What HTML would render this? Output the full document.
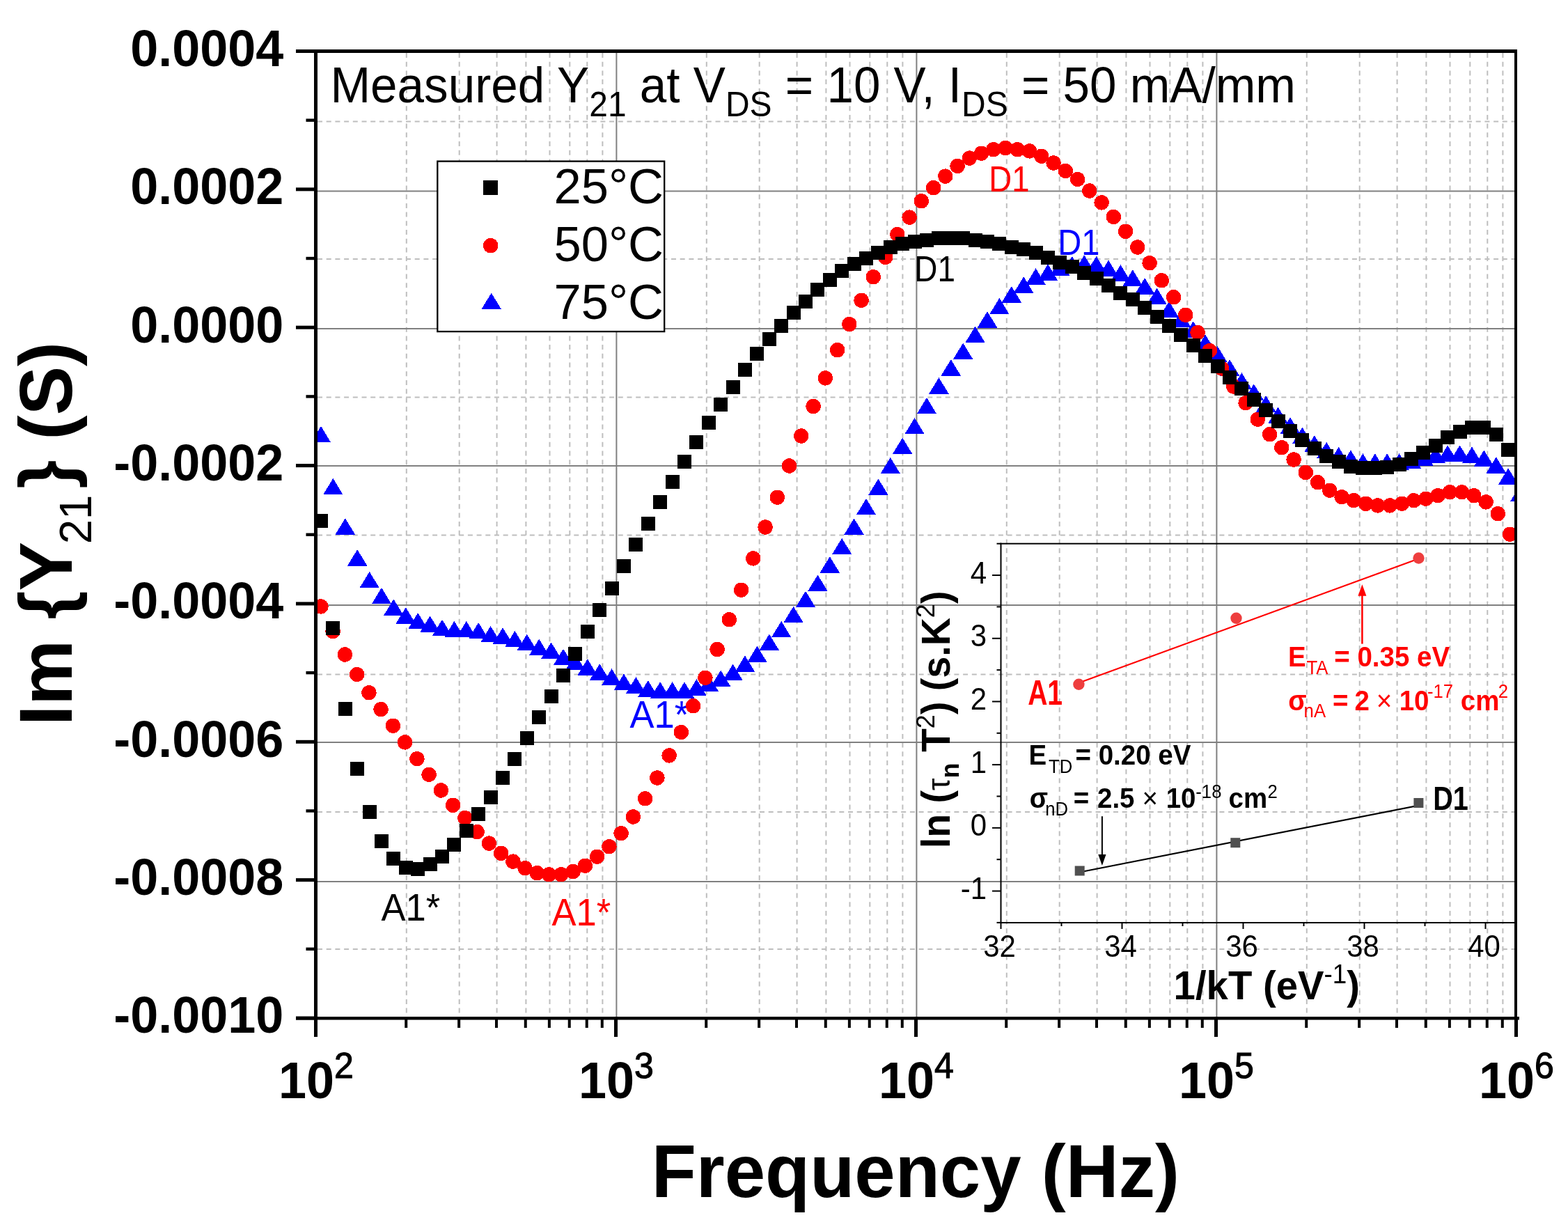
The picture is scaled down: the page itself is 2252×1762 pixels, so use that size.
<!DOCTYPE html><html><head><meta charset="utf-8"><title>Im{Y21} vs Frequency</title>
<style>html,body{margin:0;padding:0;background:#fff;overflow:hidden;}svg{display:block;}text{font-family:"Liberation Sans",Arial,sans-serif;}</style></head><body>
<svg width="2252" height="1762" viewBox="0 0 2252 1762">
<rect x="0" y="0" width="2252" height="1762" fill="#fff"/>
<defs><clipPath id="pc"><rect x="456" y="76" width="1719" height="1384"/></clipPath></defs>
<g id="grid"><g shape-rendering="crispEdges"></g><line x1="583.8" y1="76" x2="583.8" y2="1460" stroke="#bebebe" stroke-width="2" stroke-dasharray="7 5.7"/><line x1="659.7" y1="76" x2="659.7" y2="1460" stroke="#bebebe" stroke-width="2" stroke-dasharray="7 5.7"/><line x1="713.6" y1="76" x2="713.6" y2="1460" stroke="#bebebe" stroke-width="2" stroke-dasharray="7 5.7"/><line x1="755.4" y1="76" x2="755.4" y2="1460" stroke="#bebebe" stroke-width="2" stroke-dasharray="7 5.7"/><line x1="789.5" y1="76" x2="789.5" y2="1460" stroke="#bebebe" stroke-width="2" stroke-dasharray="7 5.7"/><line x1="818.3" y1="76" x2="818.3" y2="1460" stroke="#bebebe" stroke-width="2" stroke-dasharray="7 5.7"/><line x1="843.3" y1="76" x2="843.3" y2="1460" stroke="#bebebe" stroke-width="2" stroke-dasharray="7 5.7"/><line x1="865.4" y1="76" x2="865.4" y2="1460" stroke="#bebebe" stroke-width="2" stroke-dasharray="7 5.7"/><rect x="884.40" y="76" width="2" height="1384" fill="#808080"/><line x1="1014.8" y1="76" x2="1014.8" y2="1460" stroke="#bebebe" stroke-width="2" stroke-dasharray="7 5.7"/><line x1="1090.7" y1="76" x2="1090.7" y2="1460" stroke="#bebebe" stroke-width="2" stroke-dasharray="7 5.7"/><line x1="1144.6" y1="76" x2="1144.6" y2="1460" stroke="#bebebe" stroke-width="2" stroke-dasharray="7 5.7"/><line x1="1186.4" y1="76" x2="1186.4" y2="1460" stroke="#bebebe" stroke-width="2" stroke-dasharray="7 5.7"/><line x1="1220.5" y1="76" x2="1220.5" y2="1460" stroke="#bebebe" stroke-width="2" stroke-dasharray="7 5.7"/><line x1="1249.3" y1="76" x2="1249.3" y2="1460" stroke="#bebebe" stroke-width="2" stroke-dasharray="7 5.7"/><line x1="1274.3" y1="76" x2="1274.3" y2="1460" stroke="#bebebe" stroke-width="2" stroke-dasharray="7 5.7"/><line x1="1296.4" y1="76" x2="1296.4" y2="1460" stroke="#bebebe" stroke-width="2" stroke-dasharray="7 5.7"/><rect x="1315.40" y="76" width="2" height="1384" fill="#808080"/><line x1="1445.8" y1="76" x2="1445.8" y2="1460" stroke="#bebebe" stroke-width="2" stroke-dasharray="7 5.7"/><line x1="1521.7" y1="76" x2="1521.7" y2="1460" stroke="#bebebe" stroke-width="2" stroke-dasharray="7 5.7"/><line x1="1575.6" y1="76" x2="1575.6" y2="1460" stroke="#bebebe" stroke-width="2" stroke-dasharray="7 5.7"/><line x1="1617.4" y1="76" x2="1617.4" y2="1460" stroke="#bebebe" stroke-width="2" stroke-dasharray="7 5.7"/><line x1="1651.5" y1="76" x2="1651.5" y2="1460" stroke="#bebebe" stroke-width="2" stroke-dasharray="7 5.7"/><line x1="1680.3" y1="76" x2="1680.3" y2="1460" stroke="#bebebe" stroke-width="2" stroke-dasharray="7 5.7"/><line x1="1705.3" y1="76" x2="1705.3" y2="1460" stroke="#bebebe" stroke-width="2" stroke-dasharray="7 5.7"/><line x1="1727.4" y1="76" x2="1727.4" y2="1460" stroke="#bebebe" stroke-width="2" stroke-dasharray="7 5.7"/><rect x="1746.40" y="76" width="2" height="1384" fill="#808080"/><line x1="1876.8" y1="76" x2="1876.8" y2="1460" stroke="#bebebe" stroke-width="2" stroke-dasharray="7 5.7"/><line x1="1952.7" y1="76" x2="1952.7" y2="1460" stroke="#bebebe" stroke-width="2" stroke-dasharray="7 5.7"/><line x1="2006.6" y1="76" x2="2006.6" y2="1460" stroke="#bebebe" stroke-width="2" stroke-dasharray="7 5.7"/><line x1="2048.4" y1="76" x2="2048.4" y2="1460" stroke="#bebebe" stroke-width="2" stroke-dasharray="7 5.7"/><line x1="2082.5" y1="76" x2="2082.5" y2="1460" stroke="#bebebe" stroke-width="2" stroke-dasharray="7 5.7"/><line x1="2111.3" y1="76" x2="2111.3" y2="1460" stroke="#bebebe" stroke-width="2" stroke-dasharray="7 5.7"/><line x1="2136.3" y1="76" x2="2136.3" y2="1460" stroke="#bebebe" stroke-width="2" stroke-dasharray="7 5.7"/><line x1="2158.4" y1="76" x2="2158.4" y2="1460" stroke="#bebebe" stroke-width="2" stroke-dasharray="7 5.7"/><rect x="456" y="273.50" width="1719" height="2" fill="#808080"/><rect x="456" y="471.00" width="1719" height="2" fill="#808080"/><rect x="456" y="668.00" width="1719" height="2" fill="#808080"/><rect x="456" y="868.00" width="1719" height="2" fill="#808080"/><rect x="456" y="1065.00" width="1719" height="2" fill="#808080"/><rect x="456" y="1265.00" width="1719" height="2" fill="#808080"/><line x1="456" y1="174.6" x2="2175" y2="174.6" stroke="#bebebe" stroke-width="2" stroke-dasharray="7 5.7"/><line x1="456" y1="372.0" x2="2175" y2="372.0" stroke="#bebebe" stroke-width="2" stroke-dasharray="7 5.7"/><line x1="456" y1="570.5" x2="2175" y2="570.5" stroke="#bebebe" stroke-width="2" stroke-dasharray="7 5.7"/><line x1="456" y1="768.6" x2="2175" y2="768.6" stroke="#bebebe" stroke-width="2" stroke-dasharray="7 5.7"/><line x1="456" y1="968.5" x2="2175" y2="968.5" stroke="#bebebe" stroke-width="2" stroke-dasharray="7 5.7"/><line x1="456" y1="1166.0" x2="2175" y2="1166.0" stroke="#bebebe" stroke-width="2" stroke-dasharray="7 5.7"/><line x1="456" y1="1362.9" x2="2175" y2="1362.9" stroke="#bebebe" stroke-width="2" stroke-dasharray="7 5.7"/></g>
<rect x="628.3" y="231.6" width="325.9" height="244.5" fill="#fff" stroke="#000" stroke-width="2.3"/>
<g shape-rendering="crispEdges"><rect x="694" y="259" width="21" height="21" fill="#000"/>
<circle cx="704.6" cy="352.6" r="10.7" fill="#f00"/>
<polygon points="705.7,420.8 691.3,444.2 720.1,444.2" fill="#00f"/></g>
<text transform="translate(0,291.6) scale(1,1.0) translate(0,-291.6)" x="795.5" y="291.6" font-size="70.5" fill="#000">25°C</text>
<text transform="translate(0,374.9) scale(1,1.0) translate(0,-374.9)" x="795.5" y="374.9" font-size="70.5" fill="#000">50°C</text>
<text transform="translate(0,458.2) scale(1,1.0) translate(0,-458.2)" x="795.5" y="458.2" font-size="70.5" fill="#000">75°C</text>
<text transform="translate(0,147.3) scale(1,1.04) translate(0,-147.3)" x="474.5" y="147.3" font-size="69.2" fill="#000">Measured Y<tspan font-size="48" dy="18.6">21</tspan><tspan dy="-18.6"> at V</tspan><tspan font-size="48" dy="18.6">DS</tspan><tspan dy="-18.6"> = 10 V, I</tspan><tspan font-size="48" dy="18.6">DS</tspan><tspan dy="-18.6"> = 50 mA/mm</tspan></text>
<g transform="translate(1316.9,366.8) scale(0.9000,0.9919) translate(-1318,-366)"><text transform="translate(0,403.5) scale(1,1.04) translate(0,-403.5)" x="1314" y="403.5" font-size="51" fill="#000">D1</text></g>
<g transform="translate(1423.9,238.4) scale(0.8932,0.9892) translate(-1425,-238)"><text transform="translate(0,275) scale(1,1.04) translate(0,-275)" x="1421" y="275" font-size="51" fill="#f00">D1</text></g>
<g transform="translate(1523.5,328.7) scale(0.9224,0.9892) translate(-1525,-328)"><text transform="translate(0,365.3) scale(1,1.04) translate(0,-365.3)" x="1520.5" y="365.3" font-size="51" fill="#00f">D1</text></g>
<text transform="translate(0,1321.7) scale(1,1.04) translate(0,-1321.7)" x="547.5" y="1321.7" font-size="52.5" fill="#000">A1*</text>
<text transform="translate(0,1329.2) scale(1,1.04) translate(0,-1329.2)" x="792.5" y="1329.2" font-size="52.5" fill="#f00">A1*</text>
<text transform="translate(0,1045.4) scale(1,1.04) translate(0,-1045.4)" x="904.5" y="1045.4" font-size="52.5" fill="#00f">A1*</text>
<g clip-path="url(#pc)" shape-rendering="crispEdges"><g fill="#00f"><polygon points="461.0,612.0 446.8,635.4 475.2,635.4"/><polygon points="478.4,686.9 464.1,710.3 492.6,710.3"/><polygon points="495.8,744.2 481.6,767.6 510.1,767.6"/><polygon points="513.2,789.1 499.0,812.5 527.5,812.5"/><polygon points="530.6,820.9 516.4,844.3 544.9,844.3"/><polygon points="548.0,844.0 533.8,867.4 562.2,867.4"/><polygon points="565.4,860.4 551.1,883.8 579.6,883.8"/><polygon points="582.8,872.2 568.5,895.6 597.0,895.6"/><polygon points="600.2,880.0 586.0,903.4 614.5,903.4"/><polygon points="617.6,884.4 603.4,907.8 631.9,907.8"/><polygon points="635.0,889.7 620.8,913.1 649.2,913.1"/><polygon points="652.4,891.9 638.1,915.3 666.6,915.3"/><polygon points="669.8,891.9 655.5,915.3 684.0,915.3"/><polygon points="687.2,894.0 673.0,917.4 701.5,917.4"/><polygon points="704.6,899.0 690.3,922.4 718.8,922.4"/><polygon points="722.0,901.1 707.8,924.5 736.2,924.5"/><polygon points="739.4,906.0 725.1,929.4 753.6,929.4"/><polygon points="756.8,910.7 742.5,934.1 771.0,934.1"/><polygon points="774.2,917.6 760.0,941.0 788.5,941.0"/><polygon points="791.6,922.4 777.3,945.8 805.8,945.8"/><polygon points="809.0,931.7 794.8,955.1 823.2,955.1"/><polygon points="826.4,938.9 812.1,962.3 840.6,962.3"/><polygon points="843.8,946.2 829.5,969.6 858.0,969.6"/><polygon points="861.2,953.2 847.0,976.6 875.5,976.6"/><polygon points="878.6,960.2 864.3,983.6 892.8,983.6"/><polygon points="896.0,967.5 881.8,990.9 910.2,990.9"/><polygon points="913.4,972.2 899.1,995.6 927.6,995.6"/><polygon points="930.8,977.1 916.5,1000.5 945.0,1000.5"/><polygon points="948.2,979.2 933.9,1002.6 962.4,1002.6"/><polygon points="965.6,979.2 951.3,1002.6 979.8,1002.6"/><polygon points="983.0,979.2 968.8,1002.6 997.2,1002.6"/><polygon points="1000.4,975.3 986.1,998.7 1014.6,998.7"/><polygon points="1017.8,969.3 1003.5,992.7 1032.0,992.7"/><polygon points="1035.2,962.5 1020.9,985.9 1049.4,985.9"/><polygon points="1052.6,953.6 1038.3,977.0 1066.8,977.0"/><polygon points="1070.0,941.4 1055.8,964.8 1084.2,964.8"/><polygon points="1087.4,927.6 1073.2,951.0 1101.7,951.0"/><polygon points="1104.8,910.5 1090.5,933.9 1119.0,933.9"/><polygon points="1122.2,891.9 1107.9,915.3 1136.4,915.3"/><polygon points="1139.6,870.8 1125.3,894.2 1153.8,894.2"/><polygon points="1157.0,848.7 1142.8,872.1 1171.2,872.1"/><polygon points="1174.4,825.5 1160.2,848.9 1188.7,848.9"/><polygon points="1191.8,799.2 1177.5,822.6 1206.0,822.6"/><polygon points="1209.2,772.8 1194.9,796.2 1223.4,796.2"/><polygon points="1226.6,744.4 1212.3,767.8 1240.8,767.8"/><polygon points="1244.0,715.9 1229.8,739.3 1258.2,739.3"/><polygon points="1261.4,687.5 1247.2,710.9 1275.7,710.9"/><polygon points="1278.8,656.9 1264.5,680.3 1293.0,680.3"/><polygon points="1296.2,628.5 1281.9,651.9 1310.4,651.9"/><polygon points="1313.6,600.0 1299.3,623.4 1327.8,623.4"/><polygon points="1331.0,571.0 1316.8,594.4 1345.2,594.4"/><polygon points="1348.4,542.2 1334.2,565.6 1362.7,565.6"/><polygon points="1365.8,516.2 1351.5,539.6 1380.0,539.6"/><polygon points="1383.2,492.5 1368.9,515.9 1397.4,515.9"/><polygon points="1400.6,468.7 1386.3,492.1 1414.8,492.1"/><polygon points="1418.0,447.1 1403.8,470.5 1432.2,470.5"/><polygon points="1435.4,428.0 1421.1,451.4 1449.6,451.4"/><polygon points="1452.8,411.1 1438.5,434.5 1467.0,434.5"/><polygon points="1470.2,397.3 1455.9,420.7 1484.4,420.7"/><polygon points="1487.6,385.3 1473.3,408.7 1501.8,408.7"/><polygon points="1505.0,379.3 1490.8,402.7 1519.2,402.7"/><polygon points="1522.4,372.3 1508.1,395.7 1536.6,395.7"/><polygon points="1539.8,368.3 1525.5,391.7 1554.0,391.7"/><polygon points="1557.2,366.3 1542.9,389.7 1571.4,389.7"/><polygon points="1574.6,367.9 1560.3,391.3 1588.8,391.3"/><polygon points="1592.0,373.5 1577.8,396.9 1606.2,396.9"/><polygon points="1609.4,380.3 1595.1,403.7 1623.6,403.7"/><polygon points="1626.8,387.3 1612.5,410.7 1641.0,410.7"/><polygon points="1644.2,399.1 1629.9,422.5 1658.4,422.5"/><polygon points="1661.6,413.6 1647.3,437.0 1675.8,437.0"/><polygon points="1679.0,432.6 1664.8,456.0 1693.2,456.0"/><polygon points="1696.4,446.6 1682.1,470.0 1710.6,470.0"/><polygon points="1713.8,461.4 1699.5,484.8 1728.0,484.8"/><polygon points="1731.2,480.4 1716.9,503.8 1745.4,503.8"/><polygon points="1748.6,497.0 1734.3,520.4 1762.8,520.4"/><polygon points="1766.0,516.2 1751.8,539.6 1780.2,539.6"/><polygon points="1783.4,535.2 1769.1,558.6 1797.6,558.6"/><polygon points="1800.8,551.4 1786.5,574.8 1815.0,574.8"/><polygon points="1818.2,568.2 1803.9,591.6 1832.4,591.6"/><polygon points="1835.6,584.7 1821.3,608.1 1849.8,608.1"/><polygon points="1853.0,599.1 1838.8,622.5 1867.2,622.5"/><polygon points="1870.4,613.6 1856.1,637.0 1884.6,637.0"/><polygon points="1887.8,625.3 1873.5,648.7 1902.0,648.7"/><polygon points="1905.2,634.8 1890.9,658.2 1919.4,658.2"/><polygon points="1922.6,641.9 1908.3,665.3 1936.8,665.3"/><polygon points="1940.0,646.4 1925.7,669.8 1954.2,669.8"/><polygon points="1957.4,651.3 1943.1,674.7 1971.6,674.7"/><polygon points="1974.8,651.3 1960.5,674.7 1989.0,674.7"/><polygon points="1992.2,651.3 1977.9,674.7 2006.4,674.7"/><polygon points="2009.6,651.3 1995.3,674.7 2023.8,674.7"/><polygon points="2027.0,649.3 2012.7,672.7 2041.2,672.7"/><polygon points="2044.4,645.3 2030.1,668.7 2058.6,668.7"/><polygon points="2061.8,641.3 2047.6,664.7 2076.1,664.7"/><polygon points="2079.2,639.4 2064.9,662.8 2093.4,662.8"/><polygon points="2096.6,639.4 2082.3,662.8 2110.8,662.8"/><polygon points="2114.0,641.5 2099.8,664.9 2128.2,664.9"/><polygon points="2131.4,646.4 2117.1,669.8 2145.6,669.8"/><polygon points="2148.8,656.2 2134.6,679.6 2163.1,679.6"/><polygon points="2166.2,672.4 2151.9,695.8 2180.4,695.8"/><polygon points="2183.6,696.3 2169.3,719.7 2197.8,719.7"/></g><g fill="#f00"><circle cx="460.9" cy="870.9" r="10.7"/><circle cx="478.1" cy="906.5" r="10.7"/><circle cx="495.4" cy="940.0" r="10.7"/><circle cx="512.6" cy="968.5" r="10.7"/><circle cx="529.9" cy="994.8" r="10.7"/><circle cx="547.1" cy="1018.6" r="10.7"/><circle cx="564.4" cy="1042.2" r="10.7"/><circle cx="581.6" cy="1065.9" r="10.7"/><circle cx="598.9" cy="1089.7" r="10.7"/><circle cx="616.1" cy="1112.3" r="10.7"/><circle cx="633.4" cy="1135.0" r="10.7"/><circle cx="650.6" cy="1156.3" r="10.7"/><circle cx="667.9" cy="1174.6" r="10.7"/><circle cx="685.1" cy="1194.6" r="10.7"/><circle cx="702.4" cy="1211.1" r="10.7"/><circle cx="719.6" cy="1225.4" r="10.7"/><circle cx="736.9" cy="1237.1" r="10.7"/><circle cx="754.1" cy="1246.7" r="10.7"/><circle cx="771.4" cy="1253.6" r="10.7"/><circle cx="788.6" cy="1255.8" r="10.7"/><circle cx="805.9" cy="1255.8" r="10.7"/><circle cx="823.1" cy="1251.5" r="10.7"/><circle cx="840.4" cy="1243.2" r="10.7"/><circle cx="857.6" cy="1230.2" r="10.7"/><circle cx="874.9" cy="1215.8" r="10.7"/><circle cx="892.1" cy="1196.7" r="10.7"/><circle cx="909.4" cy="1173.0" r="10.7"/><circle cx="926.6" cy="1146.8" r="10.7"/><circle cx="943.9" cy="1117.0" r="10.7"/><circle cx="961.1" cy="1084.9" r="10.7"/><circle cx="978.4" cy="1051.5" r="10.7"/><circle cx="995.6" cy="1013.7" r="10.7"/><circle cx="1012.9" cy="973.2" r="10.7"/><circle cx="1030.1" cy="932.5" r="10.7"/><circle cx="1047.3" cy="889.8" r="10.7"/><circle cx="1064.6" cy="847.3" r="10.7"/><circle cx="1081.8" cy="801.9" r="10.7"/><circle cx="1099.1" cy="757.0" r="10.7"/><circle cx="1116.3" cy="714.2" r="10.7"/><circle cx="1133.6" cy="669.0" r="10.7"/><circle cx="1150.8" cy="626.0" r="10.7"/><circle cx="1168.1" cy="583.5" r="10.7"/><circle cx="1185.3" cy="542.9" r="10.7"/><circle cx="1202.6" cy="502.6" r="10.7"/><circle cx="1219.8" cy="465.6" r="10.7"/><circle cx="1237.1" cy="431.2" r="10.7"/><circle cx="1254.3" cy="397.7" r="10.7"/><circle cx="1271.6" cy="369.5" r="10.7"/><circle cx="1288.8" cy="336.6" r="10.7"/><circle cx="1306.1" cy="312.1" r="10.7"/><circle cx="1323.3" cy="288.7" r="10.7"/><circle cx="1340.6" cy="269.6" r="10.7"/><circle cx="1357.8" cy="253.1" r="10.7"/><circle cx="1375.1" cy="238.4" r="10.7"/><circle cx="1392.3" cy="227.1" r="10.7"/><circle cx="1409.6" cy="220.2" r="10.7"/><circle cx="1426.8" cy="214.7" r="10.7"/><circle cx="1444.1" cy="212.5" r="10.7"/><circle cx="1461.3" cy="214.7" r="10.7"/><circle cx="1478.6" cy="216.9" r="10.7"/><circle cx="1495.8" cy="224.2" r="10.7"/><circle cx="1513.1" cy="234.0" r="10.7"/><circle cx="1530.3" cy="245.4" r="10.7"/><circle cx="1547.6" cy="257.5" r="10.7"/><circle cx="1564.8" cy="274.0" r="10.7"/><circle cx="1582.1" cy="290.9" r="10.7"/><circle cx="1599.3" cy="311.4" r="10.7"/><circle cx="1616.6" cy="332.3" r="10.7"/><circle cx="1633.8" cy="355.0" r="10.7"/><circle cx="1651.1" cy="377.8" r="10.7"/><circle cx="1668.3" cy="402.8" r="10.7"/><circle cx="1685.6" cy="426.7" r="10.7"/><circle cx="1702.8" cy="452.3" r="10.7"/><circle cx="1720.1" cy="477.6" r="10.7"/><circle cx="1737.3" cy="503.6" r="10.7"/><circle cx="1754.6" cy="529.0" r="10.7"/><circle cx="1771.8" cy="555.0" r="10.7"/><circle cx="1789.1" cy="578.8" r="10.7"/><circle cx="1806.3" cy="602.2" r="10.7"/><circle cx="1823.6" cy="623.7" r="10.7"/><circle cx="1840.8" cy="642.7" r="10.7"/><circle cx="1858.1" cy="660.0" r="10.7"/><circle cx="1875.3" cy="678.5" r="10.7"/><circle cx="1892.6" cy="692.7" r="10.7"/><circle cx="1909.8" cy="704.3" r="10.7"/><circle cx="1927.1" cy="713.8" r="10.7"/><circle cx="1944.3" cy="718.6" r="10.7"/><circle cx="1961.6" cy="723.3" r="10.7"/><circle cx="1978.8" cy="725.9" r="10.7"/><circle cx="1996.1" cy="725.9" r="10.7"/><circle cx="2013.3" cy="723.2" r="10.7"/><circle cx="2030.6" cy="718.7" r="10.7"/><circle cx="2047.8" cy="716.3" r="10.7"/><circle cx="2065.1" cy="711.7" r="10.7"/><circle cx="2082.3" cy="706.8" r="10.7"/><circle cx="2099.6" cy="706.8" r="10.7"/><circle cx="2116.8" cy="711.7" r="10.7"/><circle cx="2134.1" cy="720.9" r="10.7"/><circle cx="2151.3" cy="737.7" r="10.7"/><circle cx="2168.6" cy="767.2" r="10.7"/></g><g fill="#000"><rect x="451.0" y="738.4" width="20" height="20"/><rect x="468.4" y="892.0" width="20" height="20"/><rect x="485.8" y="1008.4" width="20" height="20"/><rect x="503.2" y="1094.0" width="20" height="20"/><rect x="520.6" y="1156.0" width="20" height="20"/><rect x="538.0" y="1197.5" width="20" height="20"/><rect x="555.4" y="1222.5" width="20" height="20"/><rect x="572.8" y="1235.5" width="20" height="20"/><rect x="590.2" y="1237.9" width="20" height="20"/><rect x="607.6" y="1230.8" width="20" height="20"/><rect x="625.0" y="1220.2" width="20" height="20"/><rect x="642.4" y="1203.4" width="20" height="20"/><rect x="659.8" y="1183.2" width="20" height="20"/><rect x="677.2" y="1159.4" width="20" height="20"/><rect x="694.6" y="1134.5" width="20" height="20"/><rect x="712.0" y="1107.2" width="20" height="20"/><rect x="729.4" y="1079.8" width="20" height="20"/><rect x="746.8" y="1050.1" width="20" height="20"/><rect x="764.2" y="1020.4" width="20" height="20"/><rect x="781.6" y="989.6" width="20" height="20"/><rect x="799.0" y="959.7" width="20" height="20"/><rect x="816.4" y="928.9" width="20" height="20"/><rect x="833.8" y="896.7" width="20" height="20"/><rect x="851.2" y="865.8" width="20" height="20"/><rect x="868.6" y="835.0" width="20" height="20"/><rect x="886.0" y="802.8" width="20" height="20"/><rect x="903.4" y="772.1" width="20" height="20"/><rect x="920.8" y="742.0" width="20" height="20"/><rect x="938.2" y="711.3" width="20" height="20"/><rect x="955.6" y="681.5" width="20" height="20"/><rect x="973.0" y="653.1" width="20" height="20"/><rect x="990.4" y="624.5" width="20" height="20"/><rect x="1007.8" y="597.2" width="20" height="20"/><rect x="1025.2" y="571.1" width="20" height="20"/><rect x="1042.6" y="546.2" width="20" height="20"/><rect x="1060.0" y="521.2" width="20" height="20"/><rect x="1077.4" y="498.0" width="20" height="20"/><rect x="1094.8" y="476.6" width="20" height="20"/><rect x="1112.2" y="458.2" width="20" height="20"/><rect x="1129.6" y="439.3" width="20" height="20"/><rect x="1147.0" y="422.5" width="20" height="20"/><rect x="1164.4" y="406.0" width="20" height="20"/><rect x="1181.8" y="392.3" width="20" height="20"/><rect x="1199.2" y="379.4" width="20" height="20"/><rect x="1216.6" y="368.6" width="20" height="20"/><rect x="1234.0" y="360.6" width="20" height="20"/><rect x="1251.4" y="352.5" width="20" height="20"/><rect x="1268.8" y="344.5" width="20" height="20"/><rect x="1286.2" y="340.0" width="20" height="20"/><rect x="1303.6" y="337.0" width="20" height="20"/><rect x="1321.0" y="334.5" width="20" height="20"/><rect x="1338.4" y="332.0" width="20" height="20"/><rect x="1355.8" y="331.5" width="20" height="20"/><rect x="1373.2" y="332.0" width="20" height="20"/><rect x="1390.6" y="334.5" width="20" height="20"/><rect x="1408.0" y="337.0" width="20" height="20"/><rect x="1425.4" y="340.0" width="20" height="20"/><rect x="1442.8" y="344.5" width="20" height="20"/><rect x="1460.2" y="347.5" width="20" height="20"/><rect x="1477.6" y="353.2" width="20" height="20"/><rect x="1495.0" y="359.5" width="20" height="20"/><rect x="1512.4" y="366.5" width="20" height="20"/><rect x="1529.8" y="373.3" width="20" height="20"/><rect x="1547.2" y="382.2" width="20" height="20"/><rect x="1564.6" y="390.3" width="20" height="20"/><rect x="1582.0" y="399.5" width="20" height="20"/><rect x="1599.4" y="410.6" width="20" height="20"/><rect x="1616.8" y="420.0" width="20" height="20"/><rect x="1634.2" y="431.8" width="20" height="20"/><rect x="1651.6" y="445.0" width="20" height="20"/><rect x="1669.0" y="458.1" width="20" height="20"/><rect x="1686.4" y="471.3" width="20" height="20"/><rect x="1703.8" y="485.5" width="20" height="20"/><rect x="1721.2" y="501.0" width="20" height="20"/><rect x="1738.6" y="516.4" width="20" height="20"/><rect x="1756.0" y="531.8" width="20" height="20"/><rect x="1773.4" y="548.4" width="20" height="20"/><rect x="1790.8" y="563.9" width="20" height="20"/><rect x="1808.2" y="579.3" width="20" height="20"/><rect x="1825.6" y="594.6" width="20" height="20"/><rect x="1843.0" y="609.1" width="20" height="20"/><rect x="1860.4" y="622.2" width="20" height="20"/><rect x="1877.8" y="634.0" width="20" height="20"/><rect x="1895.2" y="644.5" width="20" height="20"/><rect x="1912.6" y="653.0" width="20" height="20"/><rect x="1930.0" y="659.6" width="20" height="20"/><rect x="1947.4" y="661.7" width="20" height="20"/><rect x="1964.8" y="661.7" width="20" height="20"/><rect x="1982.2" y="661.3" width="20" height="20"/><rect x="1999.6" y="656.5" width="20" height="20"/><rect x="2017.0" y="648.9" width="20" height="20"/><rect x="2034.4" y="640.0" width="20" height="20"/><rect x="2051.8" y="630.0" width="20" height="20"/><rect x="2069.2" y="618.4" width="20" height="20"/><rect x="2086.6" y="610.4" width="20" height="20"/><rect x="2104.0" y="604.4" width="20" height="20"/><rect x="2121.4" y="604.4" width="20" height="20"/><rect x="2138.8" y="613.8" width="20" height="20"/><rect x="2156.2" y="636.4" width="20" height="20"/></g></g>
<rect x="451" y="71" width="5" height="1393" fill="#000"/><rect x="2175" y="71" width="4" height="1393" fill="#000"/><rect x="425" y="71" width="1754" height="5" fill="#000"/><rect x="425" y="1460" width="1757" height="4.5" fill="#000"/><rect x="425" y="71.00" width="28" height="5" fill="#000"/><rect x="425" y="269.36" width="28" height="5" fill="#000"/><rect x="425" y="467.71" width="28" height="5" fill="#000"/><rect x="425" y="666.07" width="28" height="5" fill="#000"/><rect x="425" y="864.43" width="28" height="5" fill="#000"/><rect x="425" y="1062.79" width="28" height="5" fill="#000"/><rect x="425" y="1261.14" width="28" height="5" fill="#000"/><rect x="425" y="1459.50" width="28" height="5" fill="#000"/><rect x="439.5" y="170.48" width="14" height="4.4" fill="#000"/><rect x="439.5" y="368.84" width="14" height="4.4" fill="#000"/><rect x="439.5" y="567.19" width="14" height="4.4" fill="#000"/><rect x="439.5" y="765.55" width="14" height="4.4" fill="#000"/><rect x="439.5" y="963.91" width="14" height="4.4" fill="#000"/><rect x="439.5" y="1162.26" width="14" height="4.4" fill="#000"/><rect x="439.5" y="1360.62" width="14" height="4.4" fill="#000"/><rect x="451.00" y="1462" width="5" height="27" fill="#000"/><rect x="882.00" y="1462" width="5" height="27" fill="#000"/><rect x="1313.00" y="1462" width="5" height="27" fill="#000"/><rect x="1744.00" y="1462" width="5" height="27" fill="#000"/><rect x="2175.00" y="1462" width="5" height="27" fill="#000"/><rect x="581.24" y="1462" width="4" height="14" fill="#000"/><rect x="657.14" y="1462" width="4" height="14" fill="#000"/><rect x="710.99" y="1462" width="4" height="14" fill="#000"/><rect x="752.76" y="1462" width="4" height="14" fill="#000"/><rect x="786.88" y="1462" width="4" height="14" fill="#000"/><rect x="815.74" y="1462" width="4" height="14" fill="#000"/><rect x="840.73" y="1462" width="4" height="14" fill="#000"/><rect x="862.78" y="1462" width="4" height="14" fill="#000"/><rect x="1012.24" y="1462" width="4" height="14" fill="#000"/><rect x="1088.14" y="1462" width="4" height="14" fill="#000"/><rect x="1141.99" y="1462" width="4" height="14" fill="#000"/><rect x="1183.76" y="1462" width="4" height="14" fill="#000"/><rect x="1217.88" y="1462" width="4" height="14" fill="#000"/><rect x="1246.74" y="1462" width="4" height="14" fill="#000"/><rect x="1271.73" y="1462" width="4" height="14" fill="#000"/><rect x="1293.78" y="1462" width="4" height="14" fill="#000"/><rect x="1443.24" y="1462" width="4" height="14" fill="#000"/><rect x="1519.14" y="1462" width="4" height="14" fill="#000"/><rect x="1572.99" y="1462" width="4" height="14" fill="#000"/><rect x="1614.76" y="1462" width="4" height="14" fill="#000"/><rect x="1648.88" y="1462" width="4" height="14" fill="#000"/><rect x="1677.74" y="1462" width="4" height="14" fill="#000"/><rect x="1702.73" y="1462" width="4" height="14" fill="#000"/><rect x="1724.78" y="1462" width="4" height="14" fill="#000"/><rect x="1874.24" y="1462" width="4" height="14" fill="#000"/><rect x="1950.14" y="1462" width="4" height="14" fill="#000"/><rect x="2003.99" y="1462" width="4" height="14" fill="#000"/><rect x="2045.76" y="1462" width="4" height="14" fill="#000"/><rect x="2079.88" y="1462" width="4" height="14" fill="#000"/><rect x="2108.74" y="1462" width="4" height="14" fill="#000"/><rect x="2133.73" y="1462" width="4" height="14" fill="#000"/><rect x="2155.78" y="1462" width="4" height="14" fill="#000"/>
<text transform="translate(0,94.9) scale(1,1.02) translate(0,-94.9)" x="407.4" y="94.9" font-size="72" font-weight="bold" text-anchor="end" fill="#000">0.0004</text>
<text transform="translate(0,293.3) scale(1,1.02) translate(0,-293.3)" x="407.4" y="293.3" font-size="72" font-weight="bold" text-anchor="end" fill="#000">0.0002</text>
<text transform="translate(0,491.6) scale(1,1.02) translate(0,-491.6)" x="407.4" y="491.6" font-size="72" font-weight="bold" text-anchor="end" fill="#000">0.0000</text>
<text transform="translate(0,690.0) scale(1,1.02) translate(0,-690.0)" x="407.4" y="690.0" font-size="72" font-weight="bold" text-anchor="end" fill="#000">-0.0002</text>
<text transform="translate(0,888.3) scale(1,1.02) translate(0,-888.3)" x="407.4" y="888.3" font-size="72" font-weight="bold" text-anchor="end" fill="#000">-0.0004</text>
<text transform="translate(0,1086.7) scale(1,1.02) translate(0,-1086.7)" x="407.4" y="1086.7" font-size="72" font-weight="bold" text-anchor="end" fill="#000">-0.0006</text>
<text transform="translate(0,1285.0) scale(1,1.02) translate(0,-1285.0)" x="407.4" y="1285.0" font-size="72" font-weight="bold" text-anchor="end" fill="#000">-0.0008</text>
<text transform="translate(0,1483.4) scale(1,1.02) translate(0,-1483.4)" x="407.4" y="1483.4" font-size="72" font-weight="bold" text-anchor="end" fill="#000">-0.0010</text>
<text transform="translate(0,1576.8) scale(1,1.04) translate(0,-1576.8)" x="400.0" y="1576.8" font-size="72" font-weight="bold" fill="#000">10<tspan font-size="50" font-weight="normal" stroke="#000" stroke-width="1.1" dy="-27.8">2</tspan></text>
<text transform="translate(0,1576.8) scale(1,1.04) translate(0,-1576.8)" x="831.0" y="1576.8" font-size="72" font-weight="bold" fill="#000">10<tspan font-size="50" font-weight="normal" stroke="#000" stroke-width="1.1" dy="-27.8">3</tspan></text>
<text transform="translate(0,1576.8) scale(1,1.04) translate(0,-1576.8)" x="1262.0" y="1576.8" font-size="72" font-weight="bold" fill="#000">10<tspan font-size="50" font-weight="normal" stroke="#000" stroke-width="1.1" dy="-27.8">4</tspan></text>
<text transform="translate(0,1576.8) scale(1,1.04) translate(0,-1576.8)" x="1693.0" y="1576.8" font-size="72" font-weight="bold" fill="#000">10<tspan font-size="50" font-weight="normal" stroke="#000" stroke-width="1.1" dy="-27.8">5</tspan></text>
<text transform="translate(0,1576.8) scale(1,1.04) translate(0,-1576.8)" x="2124.0" y="1576.8" font-size="72" font-weight="bold" fill="#000">10<tspan font-size="50" font-weight="normal" stroke="#000" stroke-width="1.1" dy="-27.8">6</tspan></text>
<text transform="translate(0,1719) scale(1,1.03) translate(0,-1719)" x="935.7" y="1719" font-size="105" font-weight="bold" fill="#000">Frequency (Hz)</text>
<g transform="translate(26,496.3) scale(0.9750,0.9903) translate(-24,-492)"><text transform="translate(103.4,1043) rotate(-90) scale(1,1.03)" x="0" y="0" font-size="106.5" font-weight="bold" fill="#000">Im {Y<tspan font-size="64" font-weight="normal" dy="27.9" dx="-3">21</tspan><tspan dy="-27.9" dx="9">} (S)</tspan></text></g>
<rect x="1436.5" y="779.7" width="2" height="546.3" fill="#000"/><rect x="1436.5" y="779.7" width="740.5" height="2" fill="#000"/><rect x="1436.5" y="1324" width="740.5" height="2" fill="#000"/><rect x="1425" y="1278.55" width="12.5" height="2" fill="#000"/><rect x="1425" y="1187.85" width="12.5" height="2" fill="#000"/><rect x="1425" y="1097.15" width="12.5" height="2" fill="#000"/><rect x="1425" y="1006.45" width="12.5" height="2" fill="#000"/><rect x="1425" y="915.75" width="12.5" height="2" fill="#000"/><rect x="1425" y="825.05" width="12.5" height="2" fill="#000"/><rect x="1431.5" y="1323.90" width="6" height="2" fill="#000"/><rect x="1431.5" y="1233.20" width="6" height="2" fill="#000"/><rect x="1431.5" y="1142.50" width="6" height="2" fill="#000"/><rect x="1431.5" y="1051.80" width="6" height="2" fill="#000"/><rect x="1431.5" y="961.10" width="6" height="2" fill="#000"/><rect x="1431.5" y="870.40" width="6" height="2" fill="#000"/><rect x="1431.5" y="779.70" width="6" height="2" fill="#000"/><rect x="1436.50" y="1325" width="2" height="9" fill="#000"/><rect x="1523.50" y="1325" width="2" height="5" fill="#000"/><rect x="1610.50" y="1325" width="2" height="9" fill="#000"/><rect x="1697.50" y="1325" width="2" height="5" fill="#000"/><rect x="1784.50" y="1325" width="2" height="9" fill="#000"/><rect x="1871.50" y="1325" width="2" height="5" fill="#000"/><rect x="1958.50" y="1325" width="2" height="9" fill="#000"/><rect x="2045.50" y="1325" width="2" height="5" fill="#000"/><rect x="2132.50" y="1325" width="2" height="9" fill="#000"/>
<text transform="translate(0,1291.1) scale(1,1.04) translate(0,-1291.1)" x="1417" y="1291.1" font-size="42" text-anchor="end" fill="#000">-1</text>
<text transform="translate(0,1200.4) scale(1,1.04) translate(0,-1200.4)" x="1417" y="1200.4" font-size="42" text-anchor="end" fill="#000">0</text>
<text transform="translate(0,1109.7) scale(1,1.04) translate(0,-1109.7)" x="1417" y="1109.7" font-size="42" text-anchor="end" fill="#000">1</text>
<text transform="translate(0,1019.0) scale(1,1.04) translate(0,-1019.0)" x="1417" y="1019.0" font-size="42" text-anchor="end" fill="#000">2</text>
<text transform="translate(0,928.2) scale(1,1.04) translate(0,-928.2)" x="1417" y="928.2" font-size="42" text-anchor="end" fill="#000">3</text>
<text transform="translate(0,837.6) scale(1,1.04) translate(0,-837.6)" x="1417" y="837.6" font-size="42" text-anchor="end" fill="#000">4</text>
<text transform="translate(0,1373.7) scale(1,1.04) translate(0,-1373.7)" x="1435.5" y="1373.7" font-size="42" text-anchor="middle" fill="#000">32</text>
<text transform="translate(0,1373.7) scale(1,1.04) translate(0,-1373.7)" x="1609.5" y="1373.7" font-size="42" text-anchor="middle" fill="#000">34</text>
<text transform="translate(0,1373.7) scale(1,1.04) translate(0,-1373.7)" x="1783.5" y="1373.7" font-size="42" text-anchor="middle" fill="#000">36</text>
<text transform="translate(0,1373.7) scale(1,1.04) translate(0,-1373.7)" x="1957.5" y="1373.7" font-size="42" text-anchor="middle" fill="#000">38</text>
<text transform="translate(0,1373.7) scale(1,1.04) translate(0,-1373.7)" x="2131.5" y="1373.7" font-size="42" text-anchor="middle" fill="#000">40</text>
<g transform="translate(1689.2,1386.1) scale(1.0239,1.0150) translate(-1690,-1387)"><text transform="translate(0,1435.4) scale(1,1.04) translate(0,-1435.4)" x="1686.5" y="1435.4" font-size="55" font-weight="bold" fill="#000">1/kT (eV<tspan font-size="36" font-weight="normal" dy="-22">-1</tspan><tspan dy="22">)</tspan></text></g>
<text transform="translate(1364.4,1218.3) rotate(-90) scale(1,1.04)" x="0" y="0" font-size="55.6" font-weight="bold" fill="#000">ln (<tspan font-weight="normal" font-size="44">τ</tspan><tspan font-size="36" dy="12">n</tspan><tspan dy="-12"> T</tspan><tspan font-size="36" font-weight="normal" dy="-22">2</tspan><tspan dy="22">) (s.K</tspan><tspan font-size="36" font-weight="normal" dy="-22">2</tspan><tspan dy="22">)</tspan></text>
<line x1="1551.8" y1="979.7" x2="2034.2" y2="803.5" stroke="#f00" stroke-width="2.2"/>
<line x1="1550.5" y1="1252.5" x2="2035.4" y2="1157" stroke="#000" stroke-width="2.2"/>
<circle cx="1549.4" cy="982.8" r="8.2" fill="#ee3e3e"/>
<circle cx="1775.5" cy="887.8" r="8.2" fill="#ee3e3e"/>
<circle cx="2037.5" cy="801.5" r="8.2" fill="#ee3e3e"/>
<rect x="1543.7" y="1243.5" width="14" height="14" fill="#505050"/>
<rect x="1767.3" y="1203.2" width="14" height="14" fill="#505050"/>
<rect x="2030.4" y="1146.0" width="14" height="14" fill="#505050"/>
<line x1="1956.4" y1="924.6" x2="1956.4" y2="850" stroke="#f00" stroke-width="2.5"/>
<polygon points="1956.4,839.3 1950.4,855.7 1962.4,855.7" fill="#f00"/>
<line x1="1582.9" y1="1172.2" x2="1582.9" y2="1235" stroke="#000" stroke-width="2"/>
<polygon points="1582.9,1243.1 1577.3,1227 1588.5,1227" fill="#000"/>
<g transform="translate(1477,979.2) scale(0.8351,1.0152) translate(-1475,-980)"><text transform="translate(0,1012.7) scale(1,1.04) translate(0,-1012.7)" x="1474" y="1012.7" font-size="46.8" font-weight="bold" fill="#f00">A1</text></g>
<g transform="translate(2060.3,1129.3) scale(0.8618,1.0000) translate(-2060,-1129)"><text transform="translate(0,1162.3) scale(1,1.04) translate(0,-1162.3)" x="2057.5" y="1162.3" font-size="46" font-weight="bold" fill="#000">D1</text></g>
<text transform="translate(0,957.5) scale(1,1.05) translate(0,-957.5)" fill="#f00"><tspan x="1849.9" y="957.5" font-size="38.5" font-weight="bold">E</tspan><tspan x="1876.4" y="967.3" font-size="25.7" font-weight="normal">TA</tspan><tspan x="1916.3" y="957.5" font-size="38.5" font-weight="bold">= 0.35 eV</tspan></text>
<text transform="translate(0,1019.8) scale(1,1.05) translate(0,-1019.8)" fill="#f00"><tspan x="1850.2" y="1019.8" font-size="38.5" font-weight="bold">σ</tspan><tspan x="1872.6" y="1029.1" font-size="25.7" font-weight="normal">nA</tspan><tspan x="1913.9" y="1019.8" font-size="38.5" font-weight="bold">=</tspan><tspan x="1945.4" y="1019.8" font-size="38.5" font-weight="bold">2</tspan><tspan x="1976.7" y="1019.8" font-size="38.5" font-weight="normal">×</tspan><tspan x="2009.7" y="1019.8" font-size="38.5" font-weight="bold">10</tspan><tspan x="2049.9" y="1003.2" font-size="25.7" font-weight="normal">-17</tspan><tspan x="2097.8" y="1019.8" font-size="38.5" font-weight="bold">cm</tspan><tspan x="2151.7" y="1003.2" font-size="25.7" font-weight="normal">2</tspan></text>
<text transform="translate(0,1098.5) scale(1,1.05) translate(0,-1098.5)" fill="#000"><tspan x="1477.6" y="1098.5" font-size="38.5" font-weight="bold">E</tspan><tspan x="1506.1" y="1109.5" font-size="25.7" font-weight="normal">TD</tspan><tspan x="1544.5" y="1098.5" font-size="38.5" font-weight="bold">= 0.20 eV</tspan></text>
<text transform="translate(0,1159.9) scale(1,1.05) translate(0,-1159.9)" fill="#000"><tspan x="1478.7" y="1159.9" font-size="38.5" font-weight="bold">σ</tspan><tspan x="1501.3" y="1170.9" font-size="25.7" font-weight="normal">nD</tspan><tspan x="1541.8" y="1159.9" font-size="38.5" font-weight="bold">=</tspan><tspan x="1576.0" y="1159.9" font-size="38.5" font-weight="bold">2.5</tspan><tspan x="1640.5" y="1159.9" font-size="38.5" font-weight="normal">×</tspan><tspan x="1674.7" y="1159.9" font-size="38.5" font-weight="bold">10</tspan><tspan x="1717.3" y="1146.2" font-size="25.7" font-weight="normal">-18</tspan><tspan x="1764.5" y="1159.9" font-size="38.5" font-weight="bold">cm</tspan><tspan x="1820.6" y="1146.2" font-size="25.7" font-weight="normal">2</tspan></text>
</svg></body></html>
